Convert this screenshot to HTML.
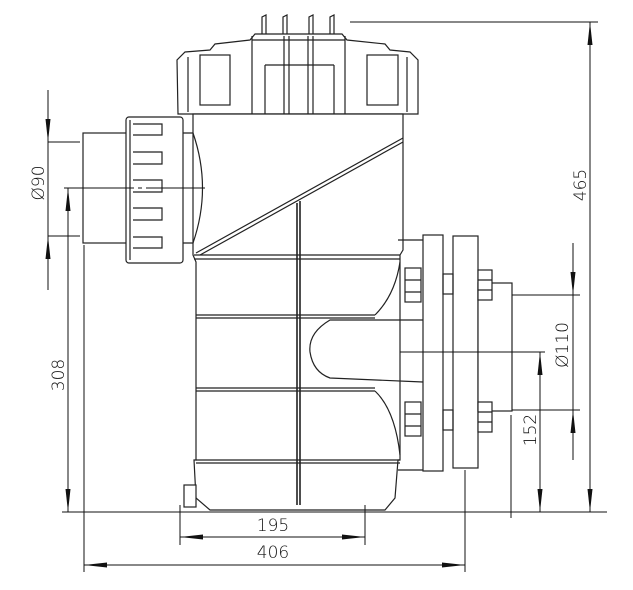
<!DOCTYPE html>
<html><head><meta charset="utf-8"><style>
html,body{margin:0;padding:0;background:#fff}
svg{display:block}
text{font-family:"DejaVu Sans","Liberation Sans",sans-serif;font-size:17px;fill:#111;font-weight:200}
</style></head><body>
<svg width="633" height="590" viewBox="0 0 633 590" xmlns="http://www.w3.org/2000/svg">
<defs>
<marker id="a" markerWidth="24" markerHeight="8" refX="23" refY="4" orient="auto-start-reverse" markerUnits="userSpaceOnUse"><path d="M0,1.5 L23,4 L0,6.5 Z" fill="#111"/></marker>
</defs>
<g fill="none" stroke="#222" stroke-width="1.2">
<!-- lid -->
<path d="M178,114 L177,60 L185,52 L210,50 L215,44 L250,40 L255,34 L342,34 L347,40 L385,44 L390,50 L410,52 L418,60 L418,114 Z" fill="#fff"/>
<path d="M188,57 L188,112 M407,57 L407,112"/>
<rect x="200" y="55" width="30" height="50"/><rect x="367" y="55" width="31" height="50"/>
<path d="M252,36 L252,114 M345,36 L345,114 M252,40 L345,40 M265,65 L334,65 M265,65 L265,114 M334,65 L334,114"/>
<path d="M284,36 L284,114 M289,36 L289,114 M308,36 L308,114 M313,36 L313,114"/>
<path d="M262,34 L262,17 L266,15 L266,34 M283,34 L283,17 L287,15 L287,34 M309,34 L309,17 L313,15 L313,34 M330,34 L330,17 L334,15 L334,34"/>
<!-- body -->
<path d="M193,114 L193,255 L196,262 L196,460 L194,460 L196,498 L210,510 L385,510 L395,498 L398,460 L400,460 L400,255 L403,250 L403,114 Z" fill="#fff"/>
<path d="M196,253 L403,138 M200,255 L403,142" />
<path d="M194,255 L400,255 M194,259 L400,259"/>
<path d="M196,315 L375,315 M196,318 L375,318"/>
<path d="M196,388 L375,388 M196,391 L375,391"/>
<path d="M196,460 L400,460 M196,463 L400,463"/>
<path d="M297,203 L297,505 M300,201 L300,505" stroke-width="1.6"/>
<!-- right outlet -->
<path d="M398,240 L423,240 M398,470 L423,470"/>
<path d="M400,262 Q395,295 375,315"/>
<path d="M375,391 Q395,410 400,455"/>
<path d="M423,320 L330,320 Q308,333 310,352 Q313,372 330,378 L423,382"/>
<rect x="423" y="235" width="20" height="236" fill="#fff"/>
<rect x="453" y="236" width="25" height="232" fill="#fff"/>
<rect x="443" y="274" width="10" height="20"/><rect x="443" y="410" width="10" height="20"/>
<rect x="478" y="283" width="34" height="128" fill="#fff"/>
<rect x="405" y="268" width="16" height="34" fill="#fff"/><path d="M405,280 L421,280 M405,292 L421,292"/>
<rect x="405" y="402" width="16" height="34" fill="#fff"/><path d="M405,414 L421,414 M405,426 L421,426"/>
<rect x="478" y="270" width="14" height="30" fill="#fff"/><path d="M478,280 L492,280 M478,290 L492,290"/>
<rect x="478" y="402" width="14" height="30" fill="#fff"/><path d="M478,412 L492,412 M478,422 L492,422"/>
<rect x="184" y="485" width="12" height="22" fill="#fff"/>
<!-- left inlet -->
<rect x="83" y="133" width="47" height="110" fill="#fff"/>
<rect x="126" y="117" width="57" height="146" rx="3" fill="#fff"/>
<path d="M130,120 L130,260"/>
<path d="M133,124 L162,124 L162,135 L133,135 M133,152 L162,152 L162,164 L133,164 M133,180 L162,180 L162,192 L133,192 M133,208 L162,208 L162,220 L133,220 M133,237 L162,237 L162,248 L133,248"/>
<path d="M183,133 L193,133 M183,243 L193,243 M193,133 Q212,188 193,243"/>
</g>
<!-- dimension lines -->
<g stroke="#111" stroke-width="1" fill="none">
<line x1="62" y1="512" x2="607" y2="512"/>
<line x1="350" y1="22" x2="598" y2="22"/>
<line x1="590" y1="22" x2="590" y2="512" marker-start="url(#a)" marker-end="url(#a)"/>
<line x1="512" y1="295" x2="580" y2="295"/><line x1="512" y1="410" x2="580" y2="410"/>
<line x1="573" y1="243" x2="573" y2="295" marker-end="url(#a)"/>
<line x1="573" y1="460" x2="573" y2="410" marker-end="url(#a)"/>
<line x1="573" y1="295" x2="573" y2="410"/>
<line x1="400" y1="352" x2="545" y2="352"/>
<line x1="540" y1="352" x2="540" y2="512" marker-start="url(#a)" marker-end="url(#a)"/>
<line x1="511" y1="415" x2="511" y2="518"/>
<line x1="48" y1="142" x2="80" y2="142"/><line x1="48" y1="236" x2="80" y2="236"/>
<line x1="48" y1="90" x2="48" y2="142" marker-end="url(#a)"/>
<line x1="48" y1="290" x2="48" y2="236" marker-end="url(#a)"/>
<line x1="48" y1="142" x2="48" y2="236"/>
<line x1="64" y1="188" x2="205" y2="188" stroke-dasharray="70,4,4,4,60"/>
<line x1="68" y1="188" x2="68" y2="512" marker-start="url(#a)" marker-end="url(#a)"/>
<line x1="84" y1="245" x2="84" y2="572"/><line x1="465" y1="470" x2="465" y2="572"/>
<line x1="180" y1="505" x2="180" y2="545"/><line x1="365" y1="505" x2="365" y2="545"/>
<line x1="84" y1="565" x2="465" y2="565" marker-start="url(#a)" marker-end="url(#a)"/>
<line x1="180" y1="537" x2="365" y2="537" marker-start="url(#a)" marker-end="url(#a)"/>
</g>
<text x="273" y="531" text-anchor="middle">195</text>
<text x="273" y="558" text-anchor="middle">406</text>
<text transform="translate(586,185) rotate(-90)" text-anchor="middle">465</text>
<text transform="translate(568,345) rotate(-90)" text-anchor="middle">Ø110</text>
<text transform="translate(536,430) rotate(-90)" text-anchor="middle">152</text>
<text transform="translate(44,183) rotate(-90)" text-anchor="middle">Ø90</text>
<text transform="translate(64,375) rotate(-90)" text-anchor="middle">308</text>
</svg>
</body></html>
